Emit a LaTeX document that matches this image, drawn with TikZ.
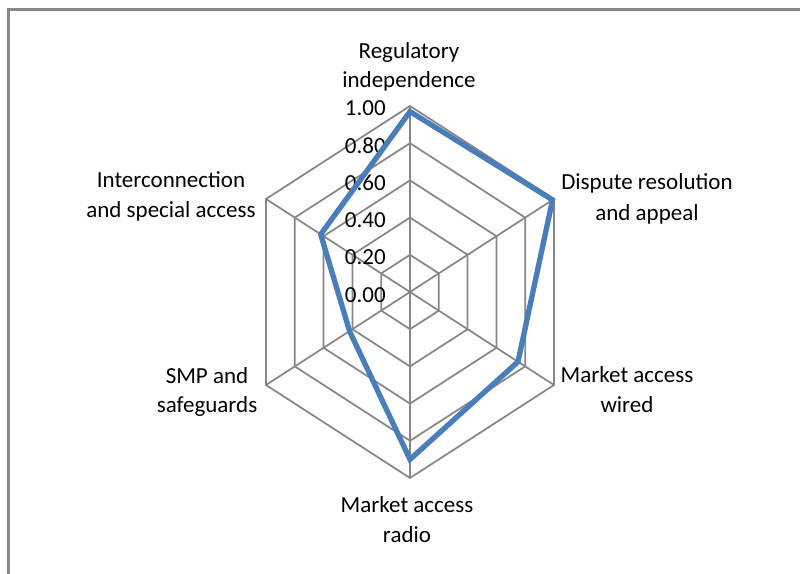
\documentclass[tikz,border=0pt]{standalone}
\usepackage{fontspec}
\setmainfont{Carlito}
\usetikzlibrary{calc}
\definecolor{gridgray}{HTML}{878787}
\definecolor{seriesblue}{HTML}{4A7EBB}
\begin{document}
\begin{tikzpicture}[x=0.75pt,y=-0.75pt,
  grid/.style={draw=gridgray, line width=1.3pt},
  frameline/.style={draw=gridgray, line width=2pt},
  series/.style={draw=seriesblue, line width=4pt, line join=miter},
  axislabel/.style={font=\fontsize{17.25}{22.5}\selectfont, inner sep=0pt, anchor=base},
  ticklabel/.style={font=\fontsize{17.25}{22.5}\selectfont, inner sep=0pt, anchor=base east}]

\useasboundingbox (0,0) rectangle (800,574);
\fill[white] (0,0) rectangle (800,574);

% chart frame (runs off the right and bottom edges)
\draw[frameline] (8.5,590) -- (8.5,9.3) -- (820,9.3);

% radar grid: centre and outer vertices
\coordinate (O) at (410,292);
\coordinate (v1) at (410,106);
\coordinate (v2) at (554,199);
\coordinate (v3) at (554,385);
\coordinate (v4) at (410,478);
\coordinate (v5) at (266,385);
\coordinate (v6) at (266,199);

% rings at 0.2 steps
\foreach \r in {0.2,0.4,0.6,0.8,1.0}
  \draw[grid] ($(O)!\r!(v1)$) -- ($(O)!\r!(v2)$) -- ($(O)!\r!(v3)$)
    -- ($(O)!\r!(v4)$) -- ($(O)!\r!(v5)$) -- ($(O)!\r!(v6)$) -- cycle;

% spokes
\foreach \k in {1,...,6}
  \draw[grid] (O) -- (v\k);

% scale labels on the vertical axis
\foreach \i/\t in {0/0.00,1/0.20,2/0.40,3/0.60,4/0.80,5/1.00}
  \node[ticklabel] (tick\i) at (386,{292-37.2*\i+10}) {\t};

% data series
\coordinate (p1) at ($(O)!0.97!(v1)$);
\coordinate (p2) at ($(O)!0.99!(v2)$);
\coordinate (p3) at ($(O)!0.75!(v3)$);
\coordinate (p4) at ($(O)!0.90!(v4)$);
\coordinate (p5) at ($(O)!0.42!(v5)$);
\coordinate (p6) at ($(O)!0.62!(v6)$);
\draw[series] (p1) -- (p2) -- (p3) -- (p4) -- (p5) -- (p6) -- cycle;

% category labels
\node[axislabel] (regA) at (409,59) {Regulatory};
\node[axislabel] (regB) at (409,88) {independence};
\node[axislabel] (dispA) at (647,190) {Dispute resolution};
\node[axislabel] (dispB) at (647,220) {and appeal};
\node[axislabel] (wireA) at (627,382) {Market access};
\node[axislabel] (wireB) at (627,412) {wired};
\node[axislabel] (radA) at (407,512) {Market access};
\node[axislabel] (radB) at (407,542) {radio};
\node[axislabel] (smpA) at (207,383) {SMP and};
\node[axislabel] (smpB) at (207,412) {safeguards};
\node[axislabel] (icA) at (171,188) {Interconnection};
\node[axislabel] (icB) at (171,218) {and special access};
\end{tikzpicture}
\end{document}
